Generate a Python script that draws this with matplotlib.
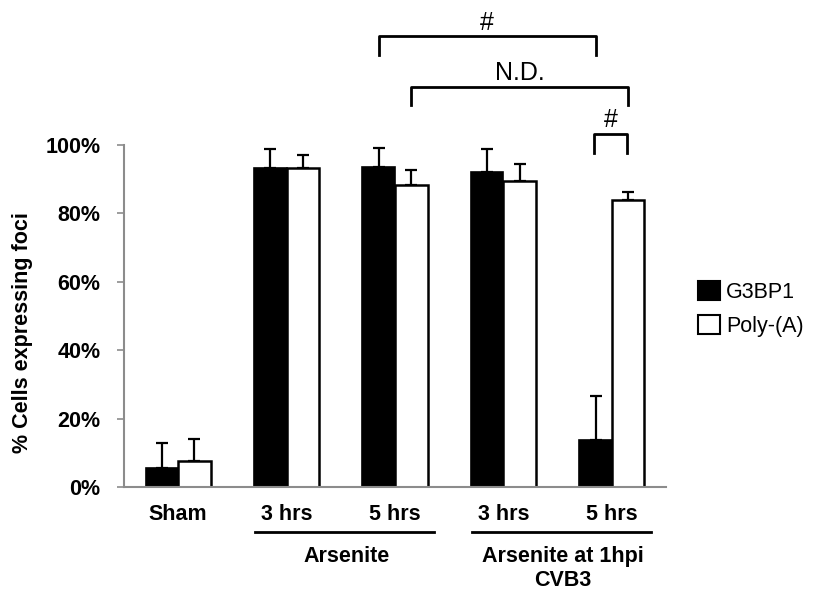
import numpy as np
import matplotlib.pyplot as plt
import matplotlib.transforms as mtransforms
from matplotlib.patches import Patch

plt.rcParams['font.family'] = ['Liberation Sans', 'DejaVu Sans']

# Datos (%)
categorias = ['Sham', '3 hrs', '5 hrs', '3 hrs', '5 hrs']
g3bp1 = [5.6, 93.2, 93.7, 92.2, 13.7]
g3bp1_err = [7.2, 5.5, 5.3, 6.6, 12.9]
polya = [7.6, 93.4, 88.3, 89.5, 83.8]
polya_err = [6.3, 3.6, 4.3, 5.0, 2.4]
grupos = ['Arsenite', 'Arsenite at 1hpi\nCVB3']

x = np.arange(len(categorias))
w = 0.3

fig = plt.figure(figsize=(8.14, 5.96), dpi=100)
ax = fig.add_axes([124/814, 1 - 487/596, 542/814, 487/596])

ax.bar(x - w/2, g3bp1, w, color='black', edgecolor='black', linewidth=1.2, zorder=2)
ax.bar(x + w/2, polya, w, color='white', edgecolor='black', linewidth=1.8, zorder=2)
ax.errorbar(x - w/2, g3bp1, yerr=[np.zeros(5), g3bp1_err], fmt='none',
            ecolor='black', elinewidth=1.6, capsize=4.3, capthick=1.6, zorder=1)
ax.errorbar(x + w/2, polya, yerr=[np.zeros(5), polya_err], fmt='none',
            ecolor='black', elinewidth=1.6, capsize=4.3, capthick=1.6, zorder=1)

ax.set_xlim(-0.5, 4.5)
ax.set_ylim(0, 487/342*100)
ax.set_yticks([0, 20, 40, 60, 80, 100])
ax.set_yticklabels(['0%', '20%', '40%', '60%', '80%', '100%'],
                   fontsize=15.5, fontweight='bold')
ax.set_xticks(x)
ax.set_xticklabels(categorias, fontsize=15.5, fontweight='bold')
ax.tick_params(axis='x', length=0, pad=12)
ax.tick_params(axis='y', length=5, width=1.2, color='#8c8c8c', pad=12)

for s in ['top', 'right']:
    ax.spines[s].set_visible(False)
ax.spines['left'].set_bounds(0, 100)
for s in ['left', 'bottom']:
    ax.spines[s].set_color('#8c8c8c')
    ax.spines[s].set_linewidth(1.5)

fig.text(23/814, 1 - 333/596, '% Cells expressing foci', rotation=90,
         ha='center', va='center', fontsize=15.5, fontweight='bold')

# Grupos bajo el eje
trans = mtransforms.blended_transform_factory(ax.transData, ax.transAxes)
for centro, texto in zip([1.5, 3.5], grupos):
    ax.plot([centro - 0.79, centro + 0.86], [-0.0924, -0.0924], color='black',
            lw=2, transform=trans, clip_on=False)
    ax.text(centro + 0.05, -0.122, texto, transform=trans, ha='center', va='top',
            fontsize=15.5, fontweight='bold', linespacing=1.15)

# Corchetes de significancia
def corchete(x1, x2, y, h, texto, dy, fs=18):
    ax.plot([x1, x1, x2, x2], [y - h, y, y, y - h], color='black', lw=2,
            clip_on=False)
    ax.text((x1 + x2) / 2, y + dy, texto, ha='center', va='bottom', fontsize=fs)

corchete(2 - w/2, 4 - w/2, 131.9, 5.6, '#', 0.3)
corchete(2 + w/2, 4 + w/2, 117.0, 5.3, 'N.D.', 0.6)
corchete(4 - w/2 - 0.01, 4 + w/2 - 0.01, 103.2, 5.5, '#', 0.5)

handles = [Patch(facecolor='black', edgecolor='black', linewidth=1.5),
           Patch(facecolor='white', edgecolor='black', linewidth=1.5)]
fig.legend(handles, ['G3BP1', 'Poly-(A)'], loc='center left',
           bbox_to_anchor=(698/814, 1 - 309/596), frameon=False, fontsize=15.5,
           borderpad=0, borderaxespad=0, handlelength=1.0, handleheight=1.0,
           handletextpad=0.3, labelspacing=0.55)

fig.savefig('out.png', dpi=100)
